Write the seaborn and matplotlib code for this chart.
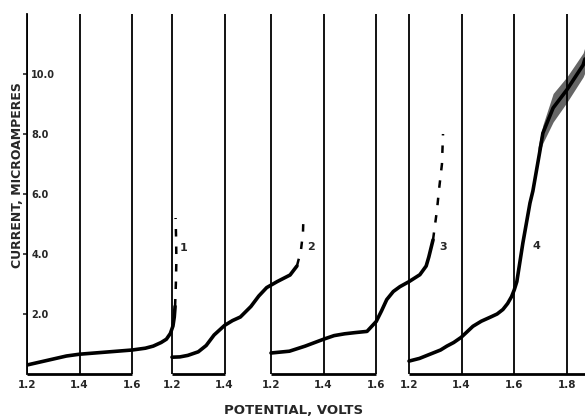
import numpy as np
import pandas as pd
import matplotlib
matplotlib.use("Agg")
import matplotlib.pyplot as plt
import seaborn as sns

# Four polarograms drawn side by side; each keeps its own potential scale
# and is shifted along a shared horizontal axis.
curve_names = ["1", "2", "3", "4"]
shifts = [0.0, 0.5513, 0.9278, 1.4525]          # horizontal shift of each trace, volts
tick_sets = [[1.2, 1.4, 1.6], [1.2, 1.4], [1.2, 1.4, 1.6], [1.2, 1.4, 1.6, 1.8]]

# Potential (V) and current (microamperes) for the recorded part of each trace
v1 = [1.20, 1.25, 1.30, 1.35, 1.40, 1.50, 1.60, 1.65, 1.68, 1.71, 1.73, 1.745, 1.755, 1.760, 1.763]
i1 = [0.30, 0.40, 0.50, 0.60, 0.66, 0.73, 0.80, 0.86, 0.93, 1.05, 1.16, 1.35, 1.60, 1.90, 2.25]
v2 = [1.20, 1.23, 1.26, 1.30, 1.33, 1.36, 1.40, 1.43, 1.46, 1.50, 1.53, 1.56, 1.60, 1.649, 1.675]
i2 = [0.56, 0.57, 0.62, 0.74, 0.95, 1.30, 1.62, 1.78, 1.90, 2.25, 2.60, 2.88, 3.08, 3.30, 3.60]
v3 = [1.20, 1.27, 1.33, 1.40, 1.44, 1.48, 1.52, 1.565, 1.60, 1.62, 1.64, 1.665, 1.69, 1.725, 1.766, 1.79, 1.80, 1.816]
i3 = [0.70, 0.76, 0.93, 1.16, 1.28, 1.34, 1.38, 1.42, 1.75, 2.10, 2.48, 2.75, 2.91, 3.08, 3.31, 3.60, 3.90, 4.47]
v4 = [1.20, 1.24, 1.28, 1.32, 1.344, 1.37, 1.398, 1.42, 1.443, 1.475, 1.508, 1.535, 1.557, 1.575, 1.59,
      1.60, 1.61, 1.633, 1.66, 1.671, 1.698, 1.709, 1.748, 1.80, 1.862, 1.869]
i4 = [0.43, 0.52, 0.66, 0.80, 0.93, 1.05, 1.22, 1.40, 1.59, 1.76, 1.89, 2.00, 2.15, 2.35, 2.58,
      2.80, 3.08, 4.37, 5.70, 6.10, 7.45, 8.03, 8.87, 9.47, 10.30, 10.50]

# Spread of the oscillating pen at the top of trace 4
v4_band = [1.690, 1.709, 1.748, 1.800, 1.862, 1.869]
i4_low = [7.20, 7.70, 8.40, 9.05, 9.90, 10.05]
i4_high = [7.55, 8.30, 9.35, 9.90, 10.70, 10.90]

# Faint, broken continuation at the top of the steep rise
v1_top = [1.763, 1.766, 1.768, 1.767, 1.765]
i1_top = [2.25, 3.00, 3.80, 4.50, 5.20]
v2_top = [1.675, 1.690, 1.698, 1.700]
i2_top = [3.60, 4.10, 4.70, 5.30]
v3_top = [1.816, 1.831, 1.839, 1.850, 1.854]
i3_top = [4.47, 5.46, 6.16, 7.00, 8.00]

# Where the numbers 1-4 sit next to each trace (own-scale volts, microamperes)
label_v = [1.797, 1.729, 1.854, 1.683]
label_i = [4.20, 4.23, 4.23, 4.27]

y_ticks = [2.0, 4.0, 6.0, 8.0, 10.0]


def frame(vs, cs):
    parts = []
    for name, shift, v, c in zip(curve_names, shifts, vs, cs):
        parts.append(pd.DataFrame({"X": np.asarray(v) + shift, "I": c, "curve": name}))
    return pd.concat(parts, ignore_index=True)


main = frame([v1, v2, v3, v4], [i1, i2, i3, i4])
tops = frame([v1_top, v2_top, v3_top], [i1_top, i2_top, i3_top])

sns.set_theme(style="white")
plt.rcParams["font.family"] = ["DejaVu Sans"]

fig = plt.figure(figsize=(5.85, 4.16), dpi=100)
ax = fig.add_axes([27 / 585, 42 / 416, 558 / 585, 360 / 416])

x_left = 1.2
x_right = 1.2 + 558 / 263
ax.set_xlim(x_left, x_right)
ax.set_ylim(0, 12.0)

# Vertical potential rules and the baseline under each trace
tick_pos, tick_lab = [], []
for shift, ticks in zip(shifts, tick_sets):
    for t in ticks:
        ax.axvline(t + shift, color="black", lw=1.3, zorder=1)
        tick_pos.append(t + shift)
        tick_lab.append(f"{t:.1f}")
    end = ticks[-1] + shift
    if shift == shifts[-1]:
        end = x_right
    ax.hlines(0, ticks[0] + shift, end, color="black", lw=2.0, clip_on=False, zorder=2)

black4 = ["black"] * 4
sns.lineplot(data=main, x="X", y="I", hue="curve", palette=black4, legend=False,
             estimator=None, sort=False, lw=2.6, ax=ax, zorder=3)
sns.lineplot(data=tops, x="X", y="I", hue="curve", palette=black4[:3], legend=False,
             estimator=None, sort=False, lw=1.8, ax=ax, zorder=3)
for line in ax.lines[-3:]:
    line.set_dashes([3, 4])

ax.fill_between(np.asarray(v4_band) + shifts[3], i4_low, i4_high,
                color="black", alpha=0.6, lw=0, zorder=3)

for name, shift, v, c in zip(curve_names, shifts, label_v, label_i):
    ax.text(v + shift, c, name, fontsize=8, fontweight="bold", ha="center", va="center")

ax.set_xticks(tick_pos)
ax.set_xticklabels(tick_lab, fontsize=7.5, fontweight="bold")
ax.tick_params(axis="x", length=0, pad=4)

ax.set_yticks(y_ticks)
ax.set_yticklabels([f"{t:.1f}" for t in y_ticks], fontsize=7, fontweight="bold")
ax.tick_params(axis="y", direction="out", length=3, width=1.2, pad=-6, left=True)
for lab in ax.get_yticklabels():
    lab.set_horizontalalignment("left")

for side in ["top", "right", "bottom"]:
    ax.spines[side].set_visible(False)
ax.spines["left"].set_color("black")
ax.spines["left"].set_linewidth(1.3)

ax.set_xlabel("POTENTIAL, VOLTS", fontsize=9.5, fontweight="bold")
ax.xaxis.set_label_coords((294 - 27) / 558, -(410 - 374) / 360)
ax.xaxis.label.set_verticalalignment("center")
ax.set_ylabel("CURRENT, MICROAMPERES", fontsize=9, fontweight="bold")
ax.yaxis.set_label_coords(-0.005, 0.553)
ax.grid(False)

fig.savefig("out.png", dpi=100, facecolor="white")
